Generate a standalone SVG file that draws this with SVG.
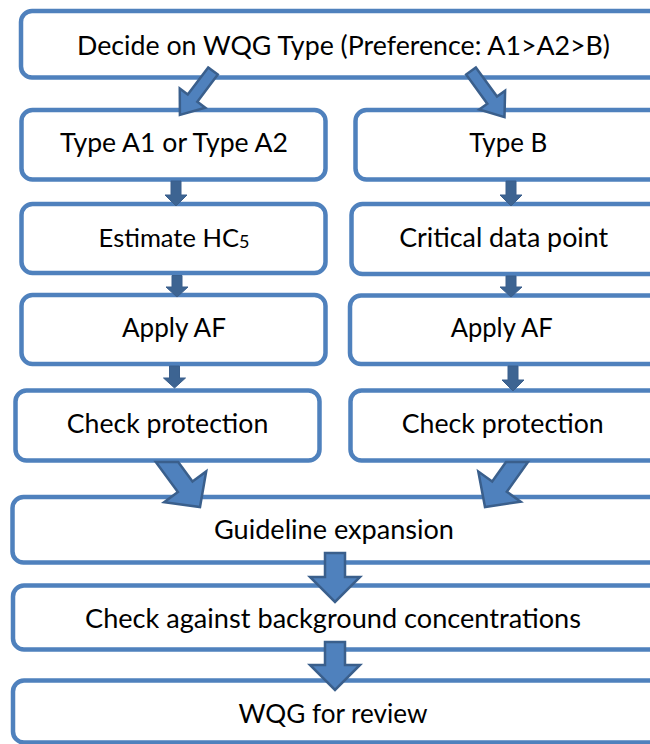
<svg xmlns="http://www.w3.org/2000/svg" width="650" height="744" viewBox="0 0 650 744">
<style>
.box{fill:#ffffff;stroke:#4F81BD;stroke-width:4.5}
.lbl{font-family:Lato,"Liberation Sans",sans-serif;font-size:26.5px;fill:#000000;text-anchor:middle}
.big{fill:#4F81BD;stroke:#3A5F8C;stroke-width:2.5;stroke-linejoin:miter}
.sm{fill:#3D6492;stroke:#3A5F8C;stroke-width:1}
</style>
<rect width="650" height="744" fill="#ffffff"/>
<g id="n-decide"><rect class="box" x="21" y="11" width="660" height="66.5" rx="11"/><text class="lbl" x="343.5" y="55" textLength="533" lengthAdjust="spacingAndGlyphs">Decide on WQG Type (Preference: A1&gt;A2&gt;B)</text></g>
<g id="n-typeA"><rect class="box" x="21.5" y="110" width="304" height="69.5" rx="11"/><text class="lbl" x="174" y="152" textLength="228" lengthAdjust="spacingAndGlyphs">Type A1 or Type A2</text></g>
<g id="n-typeB"><rect class="box" x="355.5" y="110" width="330" height="69.5" rx="11"/><text class="lbl" x="508.3" y="152" textLength="78" lengthAdjust="spacingAndGlyphs">Type B</text></g>
<g id="n-hc5"><rect class="box" x="21.5" y="204" width="304" height="69" rx="11"/><text class="lbl" x="174" y="246.7" style="font-size:25.5px">Estimate HC<tspan font-size="18" dy="1.5">5</tspan></text></g>
<g id="n-critical"><rect class="box" x="351.5" y="204" width="330" height="70" rx="11"/><text class="lbl" x="503.7" y="246.7" textLength="209" lengthAdjust="spacingAndGlyphs">Critical data point</text></g>
<g id="n-afA"><rect class="box" x="21.5" y="295" width="304" height="69" rx="11"/><text class="lbl" x="174" y="336.7" textLength="104" lengthAdjust="spacingAndGlyphs">Apply AF</text></g>
<g id="n-afB"><rect class="box" x="350" y="295.5" width="330" height="68.5" rx="11"/><text class="lbl" x="501.7" y="336.7" textLength="102" lengthAdjust="spacingAndGlyphs">Apply AF</text></g>
<g id="n-protA"><rect class="box" x="15.5" y="390.5" width="304" height="70" rx="11"/><text class="lbl" x="167.5" y="432.7" textLength="201.6" lengthAdjust="spacingAndGlyphs">Check protection</text></g>
<g id="n-protB"><rect class="box" x="350.5" y="390.5" width="330" height="70" rx="11"/><text class="lbl" x="502.7" y="432.7" textLength="202" lengthAdjust="spacingAndGlyphs">Check protection</text></g>
<g id="n-guide"><rect class="box" x="12.5" y="497" width="670" height="65.5" rx="11"/><text class="lbl" x="334" y="539" textLength="240" lengthAdjust="spacingAndGlyphs">Guideline expansion</text></g>
<g id="n-background"><rect class="box" x="13" y="585.5" width="670" height="64" rx="11"/><text class="lbl" x="333" y="628" textLength="496" lengthAdjust="spacingAndGlyphs">Check against background concentrations</text></g>
<g id="n-review"><rect class="box" x="13" y="680.5" width="670" height="62" rx="11"/><text class="lbl" x="333" y="723" textLength="189" lengthAdjust="spacingAndGlyphs">WQG for review</text></g>
<g id="connectors">
<polygon class="big" transform="translate(213,71) rotate(127)" points="0,-6 34,-6 34,-16 55,0 34,16 34,6 0,6"/>
<polygon class="big" transform="translate(471,71) rotate(54)" points="0,-6 36,-6 36,-16 57,0 36,16 36,6 0,6"/>
<polygon class="sm" points="171,181 181,181 181,195 187,195 176,206 165,195 171,195"/>
<polygon class="sm" points="172,275.5 182,275.5 182,287 188,287 177,297 166,287 172,287"/>
<polygon class="sm" points="169.5,366 179.5,366 179.5,378 185.5,378 174.5,388 163.5,378 169.5,378"/>
<polygon class="sm" points="506,181 516,181 516,195 522,195 511,206 500,195 506,195"/>
<polygon class="sm" points="506,276 516,276 516,287 522,287 511,297 500,287 506,287"/>
<polygon class="sm" points="508,366 518,366 518,380 524,380 513,391 502,380 508,380"/>
<polygon class="big" points="155.8,462 178.2,462 192.5,481.5 206.2,471.4 200,507 164.2,502.2 177.9,492.1"/>
<polygon class="big" points="528,462 506,462 492.2,481.4 478.3,471.5 485,507 520.7,501.7 506.8,491.8"/>
<polygon class="big" points="325,553 345,553 345,577 360,577 335,602 310,577 325,577"/>
<polygon class="big" points="325,642 345,642 345,665 360,665 335,690 310,665 325,665"/>
</g>
</svg>
